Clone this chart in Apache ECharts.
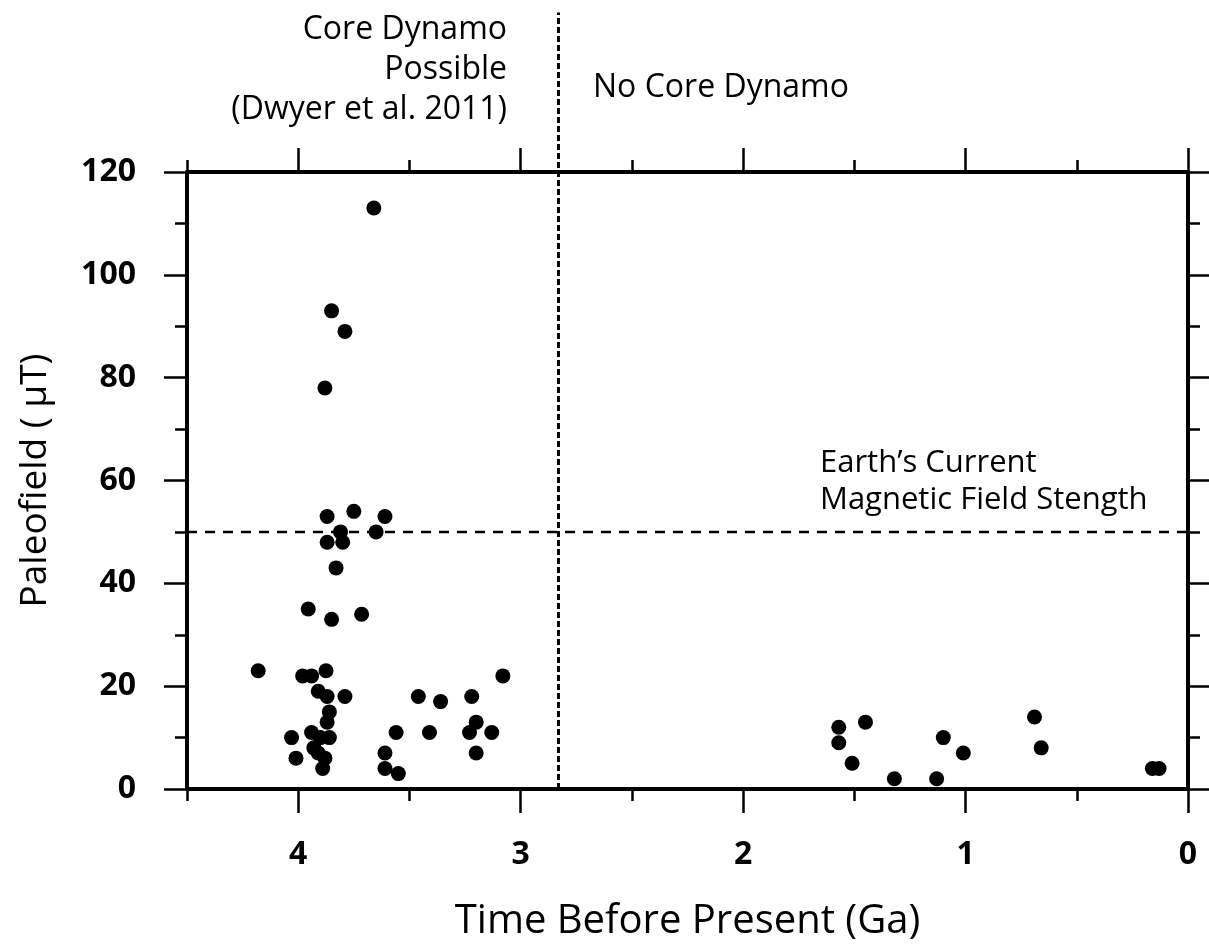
<!DOCTYPE html>
<html>
<head>
<meta charset="utf-8">
<script src="https://cdn.jsdelivr.net/npm/echarts@6/dist/echarts.min.js"></script>
<style>
html,body{margin:0;padding:0;background:#fff;}
#chart{width:1209px;height:947px;}
</style>
</head>
<body>
<div id="chart"></div>
<script>
// ---- data ----
const timeGa = [
  3.66, 3.85, 3.79, 3.88,
  3.87, 3.75, 3.61,
  3.81, 3.65,
  3.87, 3.80,
  3.83,
  3.955, 3.85, 3.715,
  4.18, 3.98, 3.94, 3.875, 3.08,
  3.91, 3.87, 3.79,
  3.46, 3.36, 3.22,
  3.86, 3.87, 3.20,
  4.03, 3.94, 3.90, 3.86, 3.93, 3.91, 3.88, 3.89, 4.01,
  3.56, 3.41, 3.23, 3.13,
  3.61, 3.61, 3.55, 3.20,
  1.57, 1.57, 1.51, 1.45, 1.32, 1.13, 1.10, 1.01, 0.69, 0.66, 0.16, 0.13
];
const paleofield = [
  113, 93, 89, 78,
  53, 54, 53,
  50, 50,
  48, 48,
  43,
  35, 33, 34,
  23, 22, 22, 23, 22,
  19, 18, 18,
  18, 17, 18,
  15, 13, 13,
  10, 11, 10, 10, 8, 7, 6, 4, 6,
  11, 11, 11, 11,
  7, 4, 3, 7,
  12, 9, 5, 13, 2, 2, 10, 7, 14, 8, 4, 4
];
const xMajorTicks = [0, 1, 2, 3, 4];
const xMinorTicks = [0.5, 1.5, 2.5, 3.5, 4.5];
const yMajorTicks = [0, 20, 40, 60, 80, 100, 120];
const yMinorTicks = [10, 30, 50, 70, 90, 110];
const xRange = [0, 4.5];
const yRange = [0, 120];
const dynamoBoundaryGa = 2.83;
const earthFieldUT = 50;
const boundaryLineTop = 151;
const xAxisTitle = 'Time Before Present (Ga)';
const yAxisTitle = 'Paleofield ( µT)';

// ---- chart ----
const FONT = '"Open Sans", "Noto Sans", sans-serif';
const chart = echarts.init(document.getElementById('chart'), null, {renderer: 'canvas'});

function xAxisDef(pos, major, labels) {
  return {
    type: 'value', gridIndex: 0, position: pos, min: xRange[0], max: xRange[1], inverse: true,
    interval: major ? 1 : 0.5,
    axisLine: {show: major, onZero: false, lineStyle: {color: '#000', width: 4}},
    axisTick: {show: true, inside: false, length: major ? 24 : 12,
      customValues: major ? xMajorTicks : xMinorTicks,
      lineStyle: {color: '#000', width: 2.5}},
    axisLabel: labels ? {show: true, customValues: xMajorTicks, margin: 66, verticalAlign: 'middle',
      color: '#000', fontFamily: FONT, fontSize: 32, fontWeight: 'bold',
      formatter: v => (Number.isInteger(v) ? String(v) : '')} : {show: false},
    splitLine: {show: false},
    name: labels ? xAxisTitle : '', nameLocation: 'middle', nameGap: 133,
    nameTextStyle: {color: '#000', fontFamily: FONT, fontSize: 40, fontWeight: 500, verticalAlign: 'middle'}
  };
}
function yAxisDef(pos, major, labels) {
  return {
    type: 'value', gridIndex: 0, position: pos, min: yRange[0], max: yRange[1],
    interval: major ? 20 : 10,
    axisLine: {show: major, onZero: false, lineStyle: {color: '#000', width: 4}},
    axisTick: {show: true, inside: false, length: major ? 23 : 12,
      customValues: major ? yMajorTicks : yMinorTicks,
      lineStyle: {color: '#000', width: 2.5}},
    axisLabel: labels ? {show: true, customValues: yMajorTicks, margin: 51, align: 'right',
      color: '#000', fontFamily: FONT, fontSize: 32, fontWeight: 'bold'} : {show: false},
    splitLine: {show: false},
    name: labels ? yAxisTitle : '', nameLocation: 'middle', nameGap: 152, nameRotate: 90,
    nameTextStyle: {color: '#000', fontFamily: FONT, fontSize: 37, fontWeight: 500, verticalAlign: 'middle'}
  };
}

const points = timeGa.map((t, i) => [t, paleofield[i]]);

const option = {
  animation: false,
  backgroundColor: '#fff',
  grid: {left: 187, right: 21, top: 172, bottom: 150, containLabel: false},
  xAxis: [
    xAxisDef('bottom', true, true),
    xAxisDef('bottom', false, false),
    xAxisDef('top', true, false),
    xAxisDef('top', false, false)
  ],
  yAxis: [
    yAxisDef('left', true, true),
    yAxisDef('left', false, false),
    yAxisDef('right', true, false),
    yAxisDef('right', false, false)
  ],
  series: [
    {
      type: 'line', xAxisIndex: 0, yAxisIndex: 0,
      data: [[xRange[1], earthFieldUT], [xRange[0], earthFieldUT]],
      symbol: 'none', silent: true, z: 1,
      lineStyle: {color: '#000', width: 2.5, type: [10, 8]}
    },
    {
      type: 'line', xAxisIndex: 0, yAxisIndex: 0, clip: false,
      data: [[dynamoBoundaryGa, yRange[0]], [dynamoBoundaryGa, boundaryLineTop]],
      symbol: 'none', silent: true, z: 1,
      lineStyle: {color: '#000', width: 3, type: [6, 3]}
    },
    {
      type: 'scatter', xAxisIndex: 0, yAxisIndex: 0,
      data: points, symbol: 'circle', symbolSize: 15, z: 3,
      itemStyle: {color: '#000', opacity: 1}
    }
  ],
  graphic: [
    {type: 'text', style: {text: 'Core Dynamo', x: 507, y: 30, align: 'right', verticalAlign: 'middle',
      font: '500 32px ' + FONT, fill: '#000'}},
    {type: 'text', style: {text: 'Possible', x: 507, y: 70, align: 'right', verticalAlign: 'middle',
      font: '500 32px ' + FONT, fill: '#000'}},
    {type: 'text', style: {text: '(Dwyer et al. 2011)', x: 507, y: 110, align: 'right', verticalAlign: 'middle',
      font: '500 32px ' + FONT, fill: '#000'}},
    {type: 'text', style: {text: 'No Core Dynamo', x: 593, y: 88, align: 'left', verticalAlign: 'middle',
      font: '500 32px ' + FONT, fill: '#000'}},
    {type: 'text', style: {text: 'Earth’s Current', x: 820, y: 463, align: 'left', verticalAlign: 'middle',
      font: '500 31px ' + FONT, fill: '#000'}},
    {type: 'text', style: {text: 'Magnetic Field Stength', x: 820, y: 500, align: 'left', verticalAlign: 'middle',
      font: '500 31px ' + FONT, fill: '#000'}}
  ]
};
chart.setOption(option);
</script>
</body>
</html>
